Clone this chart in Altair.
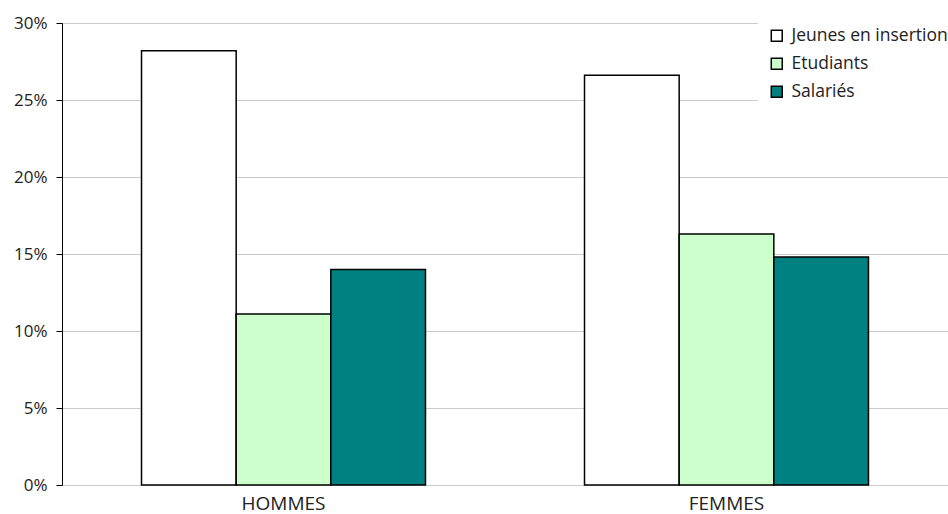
import altair as alt
import pandas as pd

groups = ["HOMMES", "FEMMES"]
series = ["Jeunes en insertion", "Etudiants", "Salariés"]
colors = ["#FFFFFF", "#CCFFCC", "#008080"]
values = {
    "Jeunes en insertion": [0.282, 0.266],
    "Etudiants": [0.111, 0.163],
    "Salariés": [0.140, 0.148],
}

rows = []
for s in series:
    for g, v in zip(groups, values[s]):
        rows.append({"groupe": g, "serie": s, "valeur": v})
df = pd.DataFrame(rows)

font = "Open Sans"

bars = alt.Chart(df).mark_bar(stroke="black", strokeWidth=1.5).encode(
    x=alt.X(
        "groupe:N",
        sort=groups,
        scale=alt.Scale(paddingInner=0.359, paddingOuter=0.1795),
        axis=alt.Axis(
            title=None, labelAngle=0, ticks=False, domain=False,
            labelFont=font, labelFontSize=19, labelColor="#222",
            labelPadding=9, grid=False,
        ),
    ),
    xOffset=alt.XOffset("serie:N", sort=series),
    y=alt.Y(
        "valeur:Q",
        scale=alt.Scale(domain=[0, 0.30], nice=False),
        axis=alt.Axis(
            title=None, format=".0%", values=[0, 0.05, 0.10, 0.15, 0.20, 0.25, 0.30],
            grid=True, gridColor="#cccccc", gridWidth=1,
            domain=True, domainColor="black", domainWidth=1,
            ticks=True, tickColor="black", tickSize=6,
            labelFont=font, labelFontSize=17, labelColor="#222",
            labelPadding=9,
        ),
    ),
    fill=alt.Fill(
        "serie:N",
        sort=series,
        scale=alt.Scale(domain=series, range=colors),
        legend=alt.Legend(
            title=None, orient="none", legendX=696, legendY=-6,
            fillColor="white", padding=10,
            symbolType="square", symbolSize=120, symbolStrokeColor="black",
            symbolStrokeWidth=1.5, rowPadding=9,
            labelFont=font, labelFontSize=17.5, labelColor="#222",
            labelOffset=6,
        ),
    ),
)

chart = bars.properties(
    width=886, height=462,
    autosize=alt.AutoSizeParams(type="none"),
    padding={"left": 62, "top": 23, "right": 0, "bottom": 29},
).configure_view(stroke=None).configure(background="white")

chart.save("out.html", embed_options={"renderer": "svg", "actions": False})
